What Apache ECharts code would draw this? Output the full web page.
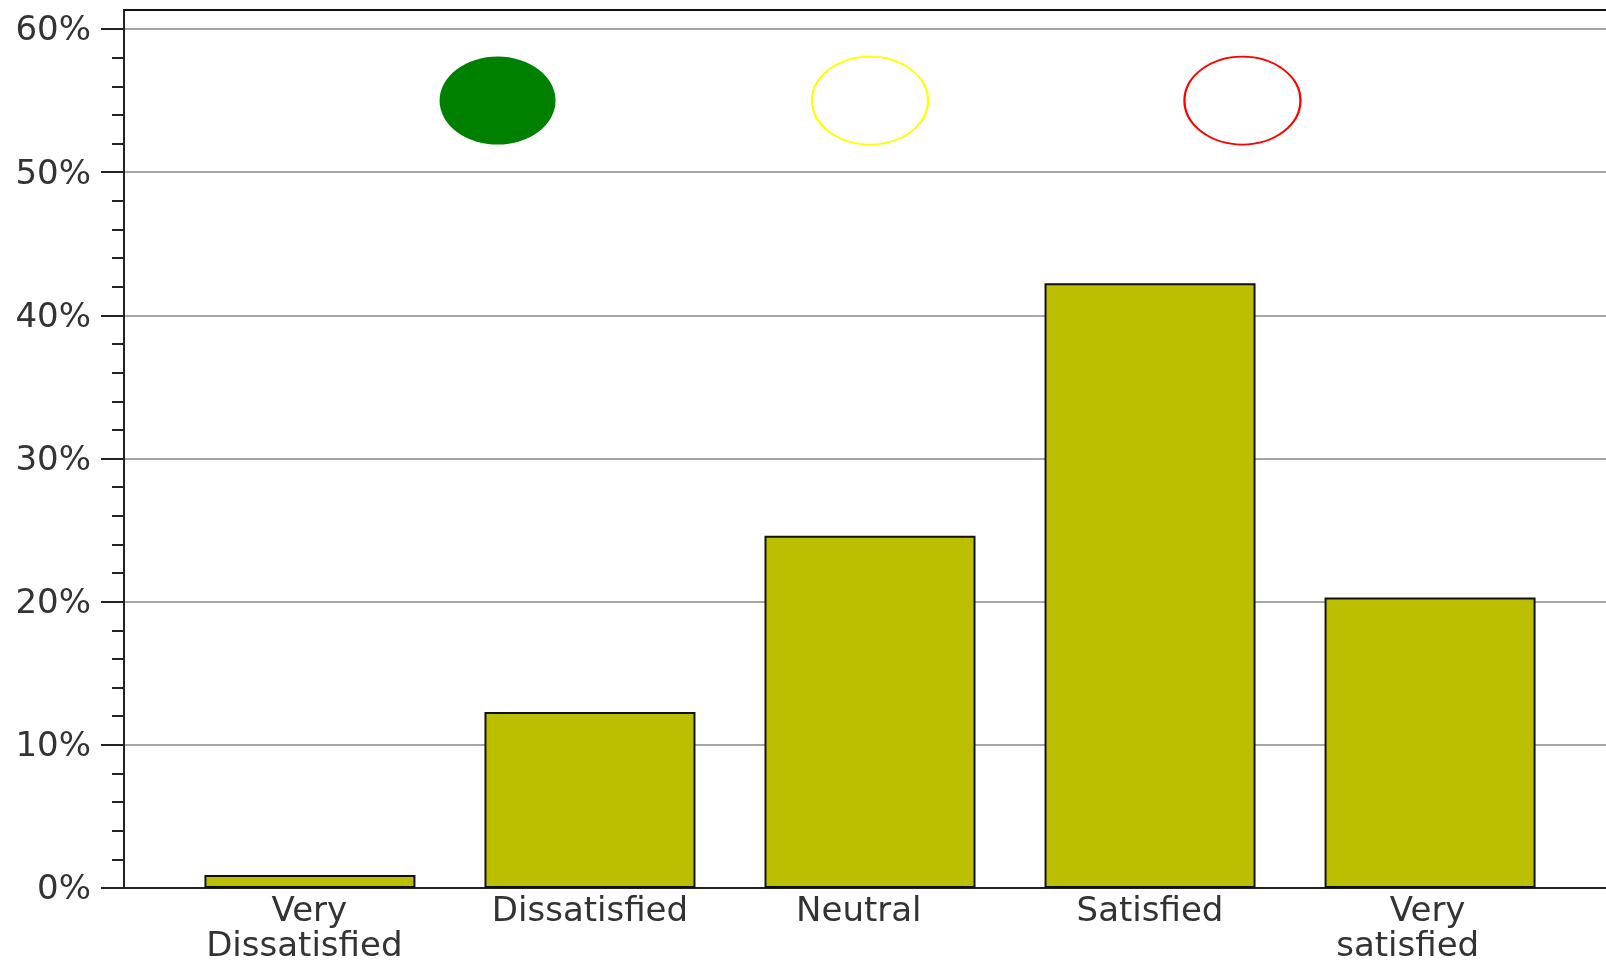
<!DOCTYPE html>
<html>
<head>
<meta charset="utf-8">
<title>Satisfaction</title>
<script src="https://cdn.jsdelivr.net/npm/echarts@6/dist/echarts.min.js"></script>
<style>
  html, body { margin: 0; padding: 0; background: #fff; overflow: hidden; }
  #chart { width: 1606px; height: 961px; }
</style>
</head>
<body>
<div id="chart"></div>
<script>
// 数据
const categories = ["Very Dissatisfied", "Dissatisfied", "Neutral", "Satisfied", "Very satisfied"];
const percents = [0.9, 12.3, 24.6, 42.25, 20.3];
const yTicks = [0, 10, 20, 30, 40, 50, 60];
// 圆点 (traffic lights): x on the category scale, y in percent
const lightX = [0.67, 2, 3.33];
const lightY = [55, 55, 55];
const labelX = [-0.02, 1, 1.96, 3, 3.92];

const textFont = "DejaVu Sans";
const myChart = echarts.init(document.getElementById("chart"));

const option = {
  animation: false,
  backgroundColor: "#fff",
  grid: {
    left: 124, right: -10, top: 10, bottom: 73,
    outerBoundsMode: "none",
    show: true, borderColor: "#111", borderWidth: 2, backgroundColor: "#fff"
  },
  xAxis: {
    type: "value",
    min: -0.664,
    max: 4.664,
    splitLine: { show: false },
    axisLine: { show: true, onZero: false, lineStyle: { color: "#222", width: 2 } },
    axisTick: { show: false },
    axisLabel: {
      customValues: labelX,
      margin: 7,
      hideOverlap: false,
      showMinLabel: true,
      showMaxLabel: true,
      formatter: function (v) {
        const name = categories[labelX.indexOf(v)];
        if (name === "Very Dissatisfied") return "{shift|Very}\n{plain|Dissatisfied}";
        if (name === "Very satisfied") return "{wide|Very}\n{plain|satisfied}";
        return "{plain|" + name + "}";
      },
      rich: {
        plain: { fontFamily: textFont, fontSize: 34, color: "#333", lineHeight: 35 },
        shift: { fontFamily: textFont, fontSize: 34, color: "#333", lineHeight: 35, padding: [0, 0, 0, 10] },
        wide: { fontFamily: textFont, fontSize: 34, color: "#333", lineHeight: 35, padding: [0, 0, 0, 40] }
      }
    }
  },
  yAxis: {
    type: "value",
    min: 0,
    max: 61.33,
    interval: 10,
    axisLine: { show: true, onZero: false, lineStyle: { color: "#222", width: 2 } },
    axisTick: { show: true, length: 23, customValues: yTicks, lineStyle: { color: "#222", width: 2 } },
    minorTick: { show: true, splitNumber: 5, length: 12, lineStyle: { color: "#222", width: 2 } },
    splitLine: { show: true, lineStyle: { color: "#888", width: 1.5 } },
    axisLabel: {
      customValues: yTicks,
      margin: 33,
      formatter: function (v) {
        return "{t|" + v + "%}";
      },
      rich: {
        t: { fontFamily: textFont, fontSize: 34, color: "#333", padding: [5, 0, 0, 0] }
      }
    }
  },
  series: [
    {
      type: "bar",
      barWidth: 211,
      data: percents.map((p, i) => [i, p]),
      itemStyle: { color: "#bcbe00", borderColor: "#111", borderWidth: 2 },
      z: 3
    },
    {
      type: "scatter",
      symbol: "circle",
      symbolSize: [116, 88],
      data: lightX.map((x, i) => ({
        value: [x, lightY[i]],
        itemStyle: i === 0
          ? { color: "#008000", opacity: 1 }
          : { color: "transparent", borderColor: i === 1 ? "#ffff00" : "#ff0000", borderWidth: 2, opacity: 1 }
      })),
      z: 4
    }
  ]
};
myChart.setOption(option);
</script>
</body>
</html>
